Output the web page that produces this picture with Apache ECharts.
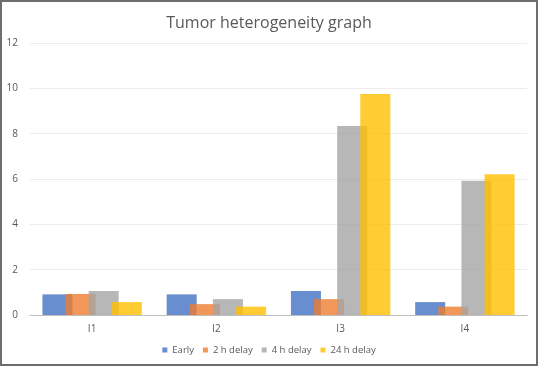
<!DOCTYPE html>
<html>
<head>
<meta charset="utf-8">
<script src="https://cdn.jsdelivr.net/npm/echarts@6/dist/echarts.min.js"></script>
<style>
  html, body { margin: 0; padding: 0; background: #fff; }
  #chart { width: 538px; height: 366px; box-sizing: border-box; border: 2px solid #6e6e6e; }
</style>
</head>
<body>
<div id="chart"></div>
<script>
  var categories = ['I1', 'I2', 'I3', 'I4']
  var early = [0.91, 0.91, 1.06, 0.57]
  var delay2h = [0.93, 0.48, 0.70, 0.37]
  var delay4h = [1.06, 0.70, 8.34, 5.92]
  var delay24h = [0.57, 0.37, 9.75, 6.21]

  var myChart = echarts.init(document.getElementById('chart'))

  function bar (name, data) {
    return {
      name: name,
      type: 'bar',
      data: data,
      barGap: '-23%',
      barCategoryGap: '20%',
      itemStyle: { opacity: 0.8 }
    }
  }

  myChart.setOption({
    animation: false,
    color: ['#4472C4', '#ED7D31', '#A5A5A5', '#FFC000'],
    title: {
      text: 'Tumor heterogeneity graph',
      left: 'center',
      top: 8,
      textStyle: { fontFamily: 'Open Sans', fontSize: 16, fontWeight: 'normal', color: '#595959' }
    },
    legend: {
      bottom: 4,
      left: 'center',
      itemWidth: 5,
      itemHeight: 5,
      itemGap: 9,
      icon: 'rect',
      textStyle: { fontFamily: 'Open Sans', fontSize: 9.5, color: '#595959' },
      data: ['Early', '2 h delay', '4 h delay', '24 h delay']
    },
    grid: { left: 28, right: 9, top: 41, bottom: 49 },
    xAxis: {
      type: 'category',
      data: categories,
      axisTick: { show: false },
      axisLine: { lineStyle: { color: '#bfbfbf' } },
      axisLabel: { fontFamily: 'Open Sans', fontSize: 10, color: '#595959', margin: 9 }
    },
    yAxis: {
      type: 'value',
      min: 0,
      max: 12,
      interval: 2,
      axisLine: { show: false },
      axisTick: { show: false },
      splitLine: { lineStyle: { color: '#ececec' } },
      axisLabel: { fontFamily: 'Open Sans', fontSize: 10, color: '#595959', margin: 12 }
    },
    series: [
      bar('Early', early),
      bar('2 h delay', delay2h),
      bar('4 h delay', delay4h),
      bar('24 h delay', delay24h)
    ]
  })
</script>
</body>
</html>
